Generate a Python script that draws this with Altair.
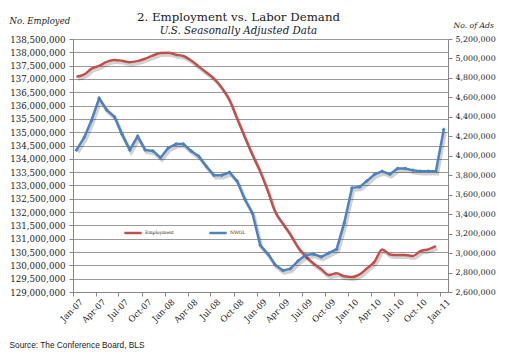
import altair as alt
import pandas as pd

# Monthly observations (mid-month), Jan-2007 .. Jan-2011
months = [d.strftime("%Y-%m-%d") for d in (pd.date_range("2007-01-01", periods=49, freq="MS") + pd.Timedelta(days=14))]

# Employment (millions), Jan-07 .. Dec-10
employment = [137.08, 137.17, 137.38, 137.49, 137.64, 137.71, 137.68, 137.63, 137.67, 137.76,
              137.88, 137.97, 137.98, 137.91, 137.86, 137.69, 137.47, 137.24, 137.01, 136.67,
              136.20, 135.51, 134.81, 134.15, 133.52, 132.77, 132.02, 131.57, 131.16, 130.67,
              130.34, 130.07, 129.85, 129.64, 129.70, 129.59, 129.56, 129.66, 129.88, 130.14,
              130.60, 130.41, 130.39, 130.39, 130.35, 130.54, 130.60, 130.72]

# NWOL - number of online ads (millions), Jan-07 .. Jan-11
nwol = [4.06, 4.19, 4.36, 4.59, 4.47, 4.40, 4.22, 4.06, 4.20, 4.06,
        4.05, 3.98, 4.08, 4.12, 4.12, 4.05, 3.995, 3.89, 3.80, 3.80,
        3.83, 3.74, 3.55, 3.41, 3.08, 2.99, 2.88, 2.82, 2.84, 2.92,
        2.98, 2.99, 2.96, 3.00, 3.04, 3.31, 3.67, 3.68, 3.74, 3.81,
        3.84, 3.81, 3.87, 3.87, 3.85, 3.84, 3.84, 3.84, 4.27]

series_names = ["Employment", "NWOL"]
series_colors = ["#C0504D", "#4F81BD"]

left_ticks = [129000000 + 500000 * i for i in range(20)]
right_ticks = [2600000 + 200000 * i for i in range(14)]

emp_df = pd.DataFrame({"date": months[:48], "value": [v * 1e6 for v in employment],
                       "series": series_names[0]})
nwol_df = pd.DataFrame({"date": months, "value": [v * 1e6 for v in nwol],
                        "series": series_names[1]})

SERIF = "DejaVu Serif"
SANS = "Liberation Sans"
GRID = "#9a9a9a"
AXC = "#868686"
TXT = "#1a1a1a"

x_enc = alt.X(
    "date:T",
    scale=alt.Scale(type="utc",
                    domain=[alt.DateTime(year=2007, month=1, date=1, utc=True),
                            alt.DateTime(year=2011, month=2, date=1, utc=True)]),
    axis=alt.Axis(format="%b-%y", tickCount={"interval": "month", "step": 3},
                  labelAngle=-45, labelAlign="right", labelBaseline="middle",
                  labelOffset=8, labelPadding=4, labelFont=SERIF, labelFontSize=8.5,
                  labelColor=TXT, tickSize=4, tickColor=AXC, domainColor=AXC,
                  grid=False, labelOverlap=False,
                  title="Source: The Conference Board, BLS", titleAngle=0,
                  titleX=-64, titleY=53, titleAlign="left", titleBaseline="middle",
                  titleFont=SANS, titleFontSize=8.3, titleFontWeight="normal",
                  titleColor=TXT),
)

color_scale = alt.Scale(domain=series_names, range=series_colors)

y_left = alt.Y(
    "value:Q",
    scale=alt.Scale(domain=[129000000, 138500000], nice=False, zero=False),
    axis=alt.Axis(values=left_ticks, format=",.0f", grid=True, gridColor=GRID,
                  gridWidth=1, tickSize=4, tickColor=AXC, domainColor=AXC,
                  labelPadding=4, labelFont=SERIF, labelFontSize=8.7, labelColor=TXT,
                  title="No. Employed", titleAngle=0, titleX=-64, titleY=-19,
                  titleAlign="left", titleBaseline="middle", titleFont=SERIF,
                  titleFontStyle="italic", titleFontWeight="normal", titleFontSize=8.5,
                  titleColor=TXT),
)

y_right = alt.Y(
    "value:Q",
    scale=alt.Scale(domain=[2600000, 5200000], nice=False, zero=False),
    axis=alt.Axis(orient="right", values=right_ticks, format=",.0f", grid=False,
                  tickSize=4, tickColor=AXC, domainColor=AXC,
                  labelPadding=3, labelFont=SERIF, labelFontSize=7.9, labelColor=TXT,
                  title="No. of Ads", titleAngle=0, titleX=5, titleY=-14,
                  titleAlign="left", titleBaseline="middle", titleFont=SERIF,
                  titleFontStyle="italic", titleFontWeight="normal", titleFontSize=7.7,
                  titleColor=TXT),
)

legend = alt.Legend(orient="none", legendX=50, legendY=184, direction="horizontal",
                    title=None, symbolType="stroke", symbolSize=300,
                    symbolStrokeWidth=2.5, labelFont=SERIF, labelFontSize=4.5,
                    labelColor=TXT, columnPadding=30, labelOffset=2)

color_enc = alt.Color("series:N", scale=color_scale, legend=legend)

emp_shadow = alt.Chart(emp_df).mark_line(
    interpolate="monotone", color="#000000", opacity=0.18, strokeWidth=3,
    xOffset=1.5, yOffset=2.5).encode(x=x_enc, y=y_left)
emp_line = alt.Chart(emp_df).mark_line(interpolate="monotone", strokeWidth=2.5).encode(
    x=x_enc, y=y_left, color=color_enc)

nwol_shadow = alt.Chart(nwol_df).mark_line(
    color="#000000", opacity=0.18, strokeWidth=3.5, xOffset=1.5, yOffset=2.5).encode(
    x=x_enc, y=y_right)
nwol_line = alt.Chart(nwol_df).mark_line(
    strokeWidth=2.5, point=alt.OverlayMarkDef(shape="diamond", size=16, filled=True)).encode(
    x=x_enc, y=y_right, color=color_enc)

left = alt.layer(emp_shadow, emp_line)
right = alt.layer(nwol_shadow, nwol_line)

chart = alt.layer(left, right).resolve_scale(y="independent").properties(
    width=375, height=253,
    autosize=alt.AutoSizeParams(type="none"),
    padding={"left": 65, "top": 31, "right": 49, "bottom": 59},
    title=alt.TitleParams(text="2. Employment vs. Labor Demand",
                          subtitle="U.S. Seasonally Adjusted Data",
                          font=SERIF, fontSize=11.8, fontWeight="normal", color=TXT,
                          subtitleFont=SERIF, subtitleFontSize=10.3,
                          subtitleFontStyle="italic", subtitleColor=TXT,
                          subtitlePadding=2, anchor="middle", dx=-22, dy=26, offset=6),
).configure_view(stroke=None).configure(background="white")

chart.save("out.html", embed_options={"renderer": "svg", "actions": False})
